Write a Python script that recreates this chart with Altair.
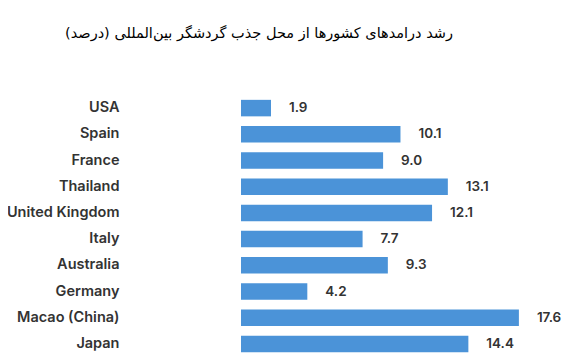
import altair as alt
import pandas as pd

countries = ["USA", "Spain", "France", "Thailand", "United Kingdom", "Italy",
             "Australia", "Germany", "Macao (China)", "Japan"]
growth = [1.9, 10.1, 9.0, 13.1, 12.1, 7.7, 9.3, 4.2, 17.6, 14.4]
title_text = "رشد درامدهای کشورها از محل جذب گردشگر بین‌المللی (درصد)"

df = pd.DataFrame({"country": countries, "growth": growth})
df["label"] = df["growth"].map(lambda v: f"{v:.1f}")

y_enc = alt.Y("country:N", sort=countries,
              scale=alt.Scale(paddingInner=0.37, paddingOuter=0.185),
              axis=alt.Axis(title=None, domain=False, ticks=False, labelPadding=122,
                            labelFont="Inter", labelFontSize=14.5, labelFontWeight=600,
                            labelColor="#333333", labelLimit=220))
x_enc = alt.X("growth:Q", scale=alt.Scale(domain=[0, 19], nice=False), axis=None)

base = alt.Chart(df)
bars = base.mark_bar(color="#4b93d8").encode(x=x_enc, y=y_enc)
text = base.mark_text(align="left", dx=18, font="Inter", fontSize=13.5,
                      fontWeight=600, color="#333333").encode(x=x_enc, y=y_enc, text="label:N")

chart = (bars + text).properties(
    width=300, height=262,
    autosize="none",
    padding={"left": 233, "top": 87, "right": 31, "bottom": 0},
    title=alt.TitleParams(text=title_text, font="DejaVu Sans", fontSize=14.5,
                          fontWeight="normal", color="#000000", anchor="middle",
                          offset=54, dx=-132),
).configure_view(stroke=None)

chart.save("out.html", embed_options={"renderer": "svg", "actions": False})
